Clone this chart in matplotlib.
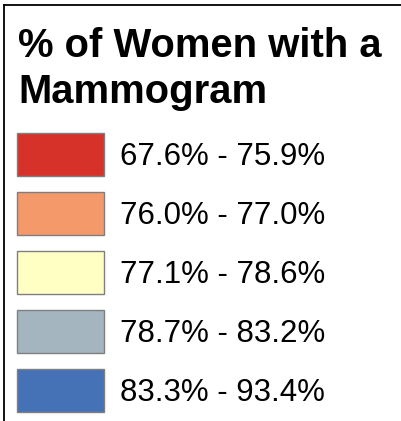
import matplotlib
matplotlib.use("Agg")
from matplotlib import pyplot as plt
from matplotlib.patches import Rectangle

title_lines = ["% of Women with a", "Mammogram"]
labels = ["67.6% - 75.9%", "76.0% - 77.0%", "77.1% - 78.6%", "78.7% - 83.2%", "83.3% - 93.4%"]
colors = ["#d73229", "#f4996a", "#ffffc4", "#a5b5bf", "#4572b7"]

plt.rcParams["font.family"] = ["Liberation Sans", "DejaVu Sans"]

fig = plt.figure(figsize=(4.01, 4.21), dpi=100)
ax = fig.add_axes([0, 0, 1, 1])
ax.set_xlim(0, 401)
ax.set_ylim(421, 0)
ax.axis("off")

# frame: top and left edges only
ax.plot([3.5, 401], [5, 5], color="black", lw=1.3)
ax.plot([3.5, 3.5], [5, 421], color="black", lw=1.3)

for i, line in enumerate(title_lines):
    ax.text(18, 57 + i * 46, line, fontsize=28.8, fontweight="bold",
            ha="left", va="baseline")

for i, (lab, col) in enumerate(zip(labels, colors)):
    y0 = 133 + i * 59
    ax.add_patch(Rectangle((17, y0), 87, 43, facecolor=col,
                           edgecolor="#7f7f7f", lw=1))
    ax.text(120, y0 + 32, lab, fontsize=22.5, ha="left", va="baseline")

fig.savefig("out.png", dpi=100)
